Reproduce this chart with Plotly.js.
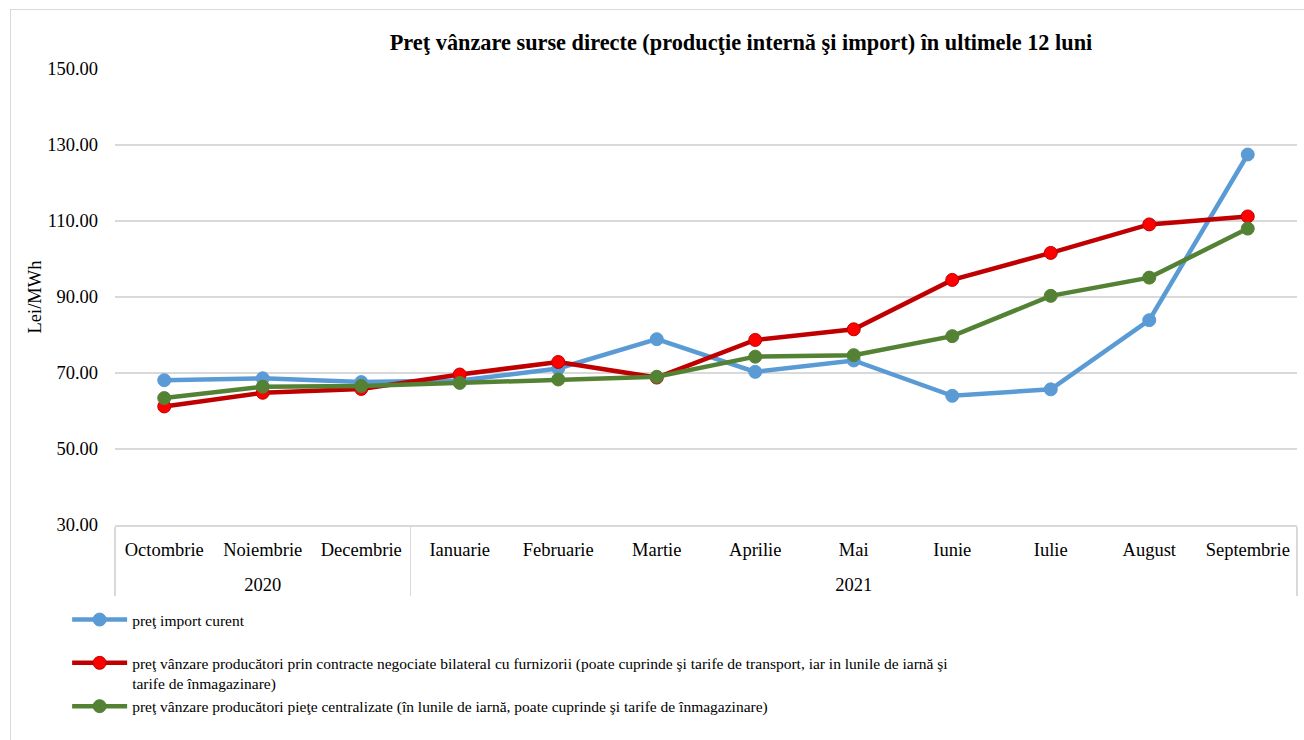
<!DOCTYPE html>
<html>
<head>
<meta charset="utf-8">
<script src="https://cdn.plot.ly/plotly-3.0.1.min.js"></script>
<style>
html,body{margin:0;padding:0;background:#fff;}
#frame{position:absolute;left:10px;top:9px;width:1400px;height:800px;border-left:1px solid #d9d9d9;border-top:1px solid #d9d9d9;pointer-events:none;}
#chart{position:absolute;left:0;top:0;width:1304px;height:740px;}
</style>
</head>
<body>
<div id="chart"></div>
<div id="frame"></div>
<script>
const years = ['2020','2020','2020','2021','2021','2021','2021','2021','2021','2021','2021','2021'];
const months = ['Octombrie','Noiembrie','Decembrie','Ianuarie','Februarie','Martie','Aprilie','Mai','Iunie','Iulie','August','Septembrie'];
const importCurent = [68.1, 68.6, 67.6, 68.0, 71.2, 78.9, 70.3, 73.3, 64.0, 65.7, 83.9, 127.5];
const bilateral = [61.2, 64.8, 65.8, 69.6, 72.9, 68.8, 78.7, 81.5, 94.5, 101.6, 109.1, 111.2];
const centralizate = [63.4, 66.4, 66.6, 67.4, 68.3, 69.0, 74.3, 74.7, 79.7, 90.3, 95.1, 108.0];
const seriesNames = [
  'preţ import curent',
  'preţ vânzare producători prin contracte negociate bilateral cu furnizorii (poate cuprinde şi tarife de transport, iar in lunile de iarnă şi<br>tarife de înmagazinare)',
  'preţ vânzare producători pieţe centralizate (în lunile de iarnă, poate cuprinde şi tarife de înmagazinare)'
];
const titleText = 'Preţ vânzare surse directe (producţie internă şi import) în ultimele 12 luni';
const yTitle = 'Lei/MWh';

const FONT = '"Liberation Serif", "Times New Roman", serif';

// month labels get a tiny empty second line so the year row sits lower, as in the reference
const monthLabels = months.map(m => m + '<br><span style="font-size:1px">&nbsp;</span>');

function tr(y, name, lineColor, markerColor, markerLine) {
  return {
    type: 'scatter', mode: 'lines+markers',
    x: [years, monthLabels], y: y, name: name,
    line: {color: lineColor, width: 4.5},
    marker: {color: markerColor, size: 13, line: {color: markerLine, width: 1}},
    cliponaxis: false
  };
}

const data = [
  tr(importCurent, seriesNames[0] + '<br>&nbsp;', '#5B9BD5', '#5B9BD5', '#5B9BD5'),
  tr(bilateral, seriesNames[1], '#C00000', '#FF0000', '#C00000'),
  tr(centralizate, seriesNames[2], '#548235', '#548235', '#548235')
];

const layout = {
  width: 1304, height: 740,
  margin: {l: 115, r: 7, t: 69, b: 215},
  paper_bgcolor: 'rgba(0,0,0,0)', plot_bgcolor: 'rgba(0,0,0,0)',
  font: {family: FONT, color: '#000', size: 16},
  title: {text: '<b>' + titleText + '</b>', x: 741/1304, xanchor: 'center', y: 1 - 42/740, yanchor: 'middle', font: {family: FONT, size: 22.3, color: '#000'}},
  showlegend: true,
  legend: {orientation: 'v', x: -0.0405, xanchor: 'left', y: -0.171, yanchor: 'top', valign: 'top', font: {family: FONT, size: 15.5}, itemwidth: 55, tracegroupgap: 0, bgcolor: 'rgba(0,0,0,0)'},
  xaxis: {
    type: 'multicategory',
    range: [-0.5, 11.5], autorange: false,
    showgrid: false, zeroline: false,
    showline: true, linecolor: '#d9d9d9', linewidth: 1.5,
    showdividers: true, dividercolor: '#d9d9d9', dividerwidth: 1.5,
    tickfont: {family: FONT, size: 18.5, color: '#000'},
    ticklabelstandoff: 7,
    ticks: ''
  },
  yaxis: {
    range: [30, 150], dtick: 20, tick0: 30, tickformat: '.2f',
    showgrid: true, gridcolor: '#d9d9d9', gridwidth: 1.5,
    zeroline: false, showline: false, ticks: '',
    tickfont: {family: FONT, size: 18.5, color: '#000'},
    ticklabelstandoff: 16,
    title: {text: yTitle, font: {family: FONT, size: 18.5, color: '#000'}, standoff: 0}
  },
  hovermode: false
};

Plotly.newPlot('chart', data, layout, {displayModeBar: false, staticPlot: true});
</script>
</body>
</html>
